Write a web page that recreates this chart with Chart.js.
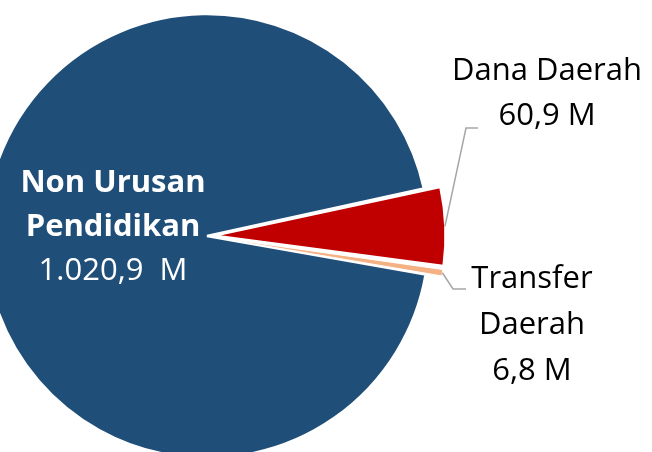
<!DOCTYPE html>
<html lang="id">
<head>
<meta charset="UTF-8">
<title>Dana Pendidikan</title>
<script src="https://cdn.jsdelivr.net/npm/chart.js@4"></script>
<style>
  html, body { margin: 0; padding: 0; background: #fff; }
  #wrap { width: 652px; height: 452px; }
</style>
</head>
<body>
<div id="wrap"><canvas id="pieChart" width="652" height="452"></canvas></div>
<script>
// data (in M)
const categories = ['Non Urusan Pendidikan', 'Dana Daerah', 'Transfer Daerah'];
const values = [1020.9, 60.9, 6.8];
const valueLabels = ['1.020,9  M', '60,9 M', '6,8 M'];
const nameLines = [['Non Urusan', 'Pendidikan'], ['Dana Daerah'], ['Transfer', 'Daerah']];
const colors = ['#1F4E79', '#C00000', '#F4B183'];

// where each label sits, and the leader line elbows
const labelLayout = [
  { x: 113, y: 192, lh: 44, color: '#ffffff', bold: true, leader: null },
  { x: 547, y: 80, lh: 45, color: '#000000', bold: false, leader: [[466, 128], [478, 128]] },
  { x: 532, y: 288, lh: 46, color: '#000000', bold: false, leader: [[453, 289], [466, 289]] }
];
const FONT = '"Open Sans", "Noto Sans", sans-serif';
const FONT_SIZE = 31;

const labelPlugin = {
  id: 'pieLabels',
  afterDraw(chart) {
    const ctx = chart.ctx;
    const meta = chart.getDatasetMeta(0);
    ctx.save();
    meta.data.forEach((arc, i) => {
      const lay = labelLayout[i];
      // leader line from the middle of the arc's outer edge
      if (lay.leader) {
        const p = arc.getProps(['x', 'y', 'startAngle', 'endAngle', 'outerRadius'], true);
        const off = (arc.options.offset || 0) / 4;
        const mid = (p.startAngle + p.endAngle) / 2;
        const fix = 1 - Math.sin(Math.min(Math.PI, p.endAngle - p.startAngle));
        const r = p.outerRadius + off * fix + off;
        ctx.beginPath();
        ctx.moveTo(p.x + Math.cos(mid) * r, p.y + Math.sin(mid) * r);
        lay.leader.forEach(pt => ctx.lineTo(pt[0], pt[1]));
        ctx.strokeStyle = '#A6A6A6';
        ctx.lineWidth = 1.5;
        ctx.stroke();
      }
      ctx.fillStyle = lay.color;
      ctx.textAlign = 'center';
      ctx.textBaseline = 'alphabetic';
      let y = lay.y;
      ctx.font = (lay.bold ? 'bold ' : '') + FONT_SIZE + 'px ' + FONT;
      nameLines[i].forEach(line => {
        ctx.fillText(line, lay.x, y);
        y += lay.lh;
      });
      ctx.font = FONT_SIZE + 'px ' + FONT;
      ctx.fillText(valueLabels[i], lay.x, y);
    });
    ctx.restore();
  }
};

const ctx = document.getElementById('pieChart').getContext('2d');
const chart = new Chart(ctx, {
  type: 'pie',
  data: {
    labels: categories,
    datasets: [{
      data: values,
      backgroundColor: colors,
      borderColor: '#ffffff',
      borderWidth: [2.5, 1.5, 1],
      offset: [0, 39, 33],
      radius: 222,
      clip: false
    }]
  },
  options: {
    responsive: false,
    animation: false,
    events: [],
    rotation: 100,
    layout: { padding: { left: 0, right: 238, top: 20, bottom: 0 } },
    plugins: {
      legend: { display: false },
      tooltip: { enabled: false }
    }
  },
  plugins: [labelPlugin]
});
</script>
</body>
</html>
